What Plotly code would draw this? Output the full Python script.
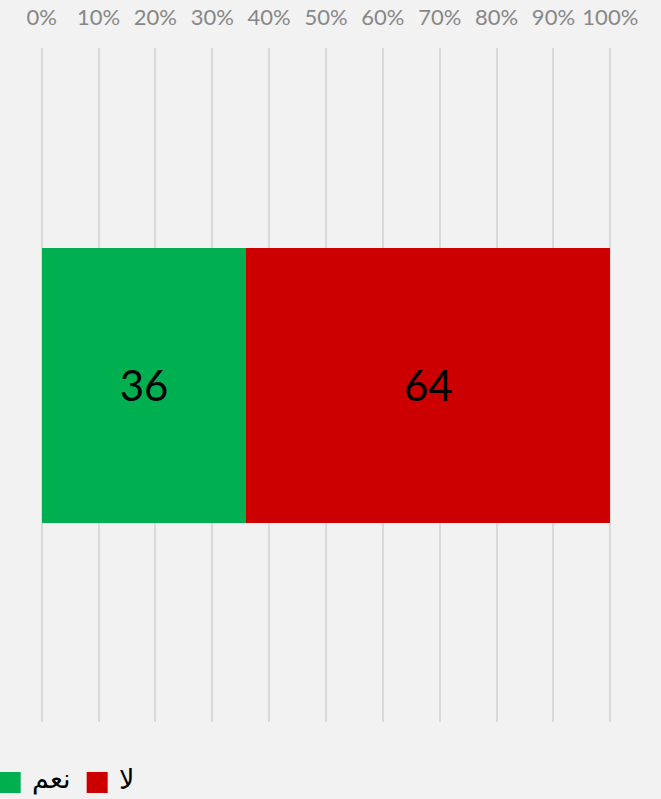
import plotly.graph_objects as go

categories = ["Q"]
yes_values = [36]
no_values = [64]
series_names = ["نعم", "لا"]
series_colors = ["#00b050", "#cc0000"]
tick_values = [0, 10, 20, 30, 40, 50, 60, 70, 80, 90, 100]
tick_labels = [f"{v}%" for v in tick_values]

fig = go.Figure()
for name, vals, col in zip(series_names, [yes_values, no_values], series_colors):
    fig.add_trace(go.Bar(
        y=categories, x=vals, name=name, orientation="h",
        marker=dict(color=col, line=dict(width=0)),
        text=[str(v) for v in vals], textposition="inside",
        insidetextanchor="middle",
        textfont=dict(family="Lato, sans-serif", size=42, color="black"),
        showlegend=False,
    ))

W, H = 661, 799
X0_PX, X100_PX = 42, 610.5
PX_PER = (X100_PX - X0_PX) / 100
PAD = 1.0
L = X0_PX - PAD * PX_PER
R = W - (X100_PX + PAD * PX_PER)
T, B = 48, 77

fig.update_layout(
    width=W, height=H,
    margin=dict(l=L, r=R, t=T, b=B, autoexpand=False),
    paper_bgcolor="#f2f2f2", plot_bgcolor="#f2f2f2",
    barmode="stack", bargap=0.592,
    xaxis=dict(range=[-PAD, 100 + PAD], side="top", tickvals=tick_values, ticktext=tick_labels,
               showgrid=True, gridcolor="#d9d9d9", gridwidth=1.5, zeroline=False,
               showline=False, ticks="", ticklen=0, ticklabelstandoff=18, automargin=False,
               tickfont=dict(family="Lato, sans-serif", size=22, color="#878787"),
               fixedrange=True),
    yaxis=dict(visible=False, range=[-0.5, 0.5], fixedrange=True, automargin=False),
    font=dict(family="DejaVu Sans, sans-serif"),
)

# custom legend (squares + text)
legend_sq_x = [0, 87]
legend_txt_x = [30, 117]
shapes = []
annotations = []
for i, (name, col) in enumerate(zip(series_names, series_colors)):
    shapes.append(dict(type="rect", xref="paper", yref="paper",
                       xsizemode="pixel", ysizemode="pixel", xanchor=0, yanchor=0,
                       x0=legend_sq_x[i] - L, x1=legend_sq_x[i] + 21 - L,
                       y0=-(772 - (H - B)), y1=-(793 - (H - B)),
                       fillcolor=col, line=dict(width=0)))
    annotations.append(dict(text=name, xref="paper", yref="paper", x=0, y=0,
                            xanchor="left", yanchor="middle", showarrow=False,
                            xshift=legend_txt_x[i] - L, yshift=-(779 - (H - B)),
                            font=dict(family="DejaVu Sans, sans-serif", size=27, color="black")))
fig.update_layout(shapes=shapes, annotations=annotations)

fig.write_html("out.html", config={"displayModeBar": False},
               post_script="document.body.style.margin='0';document.body.style.padding='0';")
